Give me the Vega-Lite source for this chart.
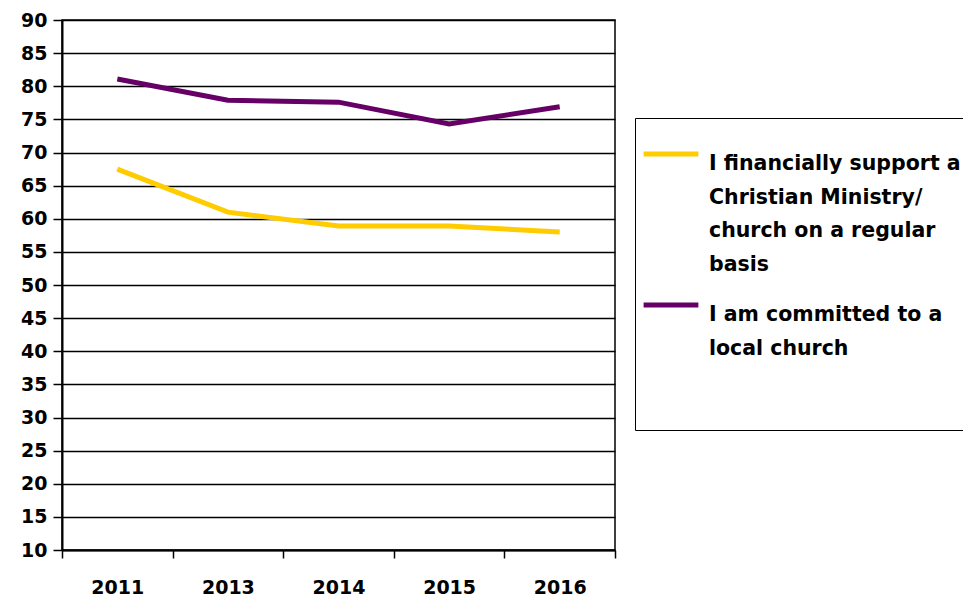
{
  "$schema": "https://vega.github.io/schema/vega-lite/v6.json",
  "width": 553,
  "height": 530,
  "autosize": {"type": "none"},
  "padding": {"left": 62, "top": 20, "right": 348, "bottom": 48},
  "background": "white",
  "config": {
    "font": "DejaVu Sans",
    "view": {"stroke": "black", "strokeWidth": 1.5},
    "style": {"guide-label": {"lineHeight": 33.5}}
  },
  "data": {
    "values": [
      {"year": "2011", "series": "I financially support a Christian Ministry/ church on a regular basis", "value": 67.5},
      {"year": "2013", "series": "I financially support a Christian Ministry/ church on a regular basis", "value": 61.0},
      {"year": "2014", "series": "I financially support a Christian Ministry/ church on a regular basis", "value": 58.9},
      {"year": "2015", "series": "I financially support a Christian Ministry/ church on a regular basis", "value": 58.9},
      {"year": "2016", "series": "I financially support a Christian Ministry/ church on a regular basis", "value": 58.0},
      {"year": "2011", "series": "I am committed to a local church", "value": 81.1},
      {"year": "2013", "series": "I am committed to a local church", "value": 77.9},
      {"year": "2014", "series": "I am committed to a local church", "value": 77.6},
      {"year": "2015", "series": "I am committed to a local church", "value": 74.3},
      {"year": "2016", "series": "I am committed to a local church", "value": 76.9}
    ]
  },
  "mark": {"type": "line", "strokeWidth": 5},
  "encoding": {
    "x": {
      "field": "year", "type": "ordinal", "title": null,
      "scale": {"paddingInner": 0, "paddingOuter": 0},
      "axis": {
        "labelAngle": 0, "labelFont": "DejaVu Sans", "labelFontSize": 19, "labelFontWeight": "bold",
        "labelColor": "black", "labelPadding": 20, "tickBand": "extent", "tickSize": 8,
        "tickColor": "black", "tickWidth": 1.5, "domainColor": "black", "domainWidth": 2, "grid": false
      }
    },
    "y": {
      "field": "value", "type": "quantitative", "title": null,
      "scale": {"domain": [10, 90], "nice": false, "zero": false},
      "axis": {
        "values": [10,15,20,25,30,35,40,45,50,55,60,65,70,75,80,85,90],
        "labelFont": "DejaVu Sans", "labelFontSize": 19, "labelFontWeight": "bold", "labelColor": "black",
        "labelPadding": 6, "tickSize": 9, "tickColor": "black", "tickWidth": 1.5,
        "domainColor": "black", "domainWidth": 2,
        "grid": true, "gridColor": "black", "gridWidth": 1.5, "gridOpacity": 1
      }
    },
    "color": {
      "field": "series", "type": "nominal",
      "scale": {
        "domain": ["I financially support a Christian Ministry/ church on a regular basis", "I am committed to a local church"],
        "range": ["#FFCC00", "#660066"]
      },
      "legend": {
        "title": [" ", " "],
        "titleOrient": "bottom",
        "titleFontSize": 20,
        "titleLineHeight": 44.5,
        "titlePadding": 0,
        "orient": "none",
        "legendX": 573,
        "legendY": 98,
        "padding": 6,
        "strokeColor": "black",
        "fillColor": "white",
        "symbolType": "stroke",
        "symbolSize": 3000,
        "symbolStrokeWidth": 5,
        "labelOffset": 8,
        "labelFont": "DejaVu Sans",
        "labelFontSize": 20.5,
        "labelFontWeight": "bold",
        "labelColor": "black",
        "labelLimit": 400,
        "labelBaseline": "top",
        "labelExpr": "datum.label == 'I am committed to a local church' ? ['I am committed to a', 'local church'] : ['I financially support a', 'Christian Ministry/', 'church on a regular', 'basis']",
        "rowPadding": -16
      }
    }
  }
}
